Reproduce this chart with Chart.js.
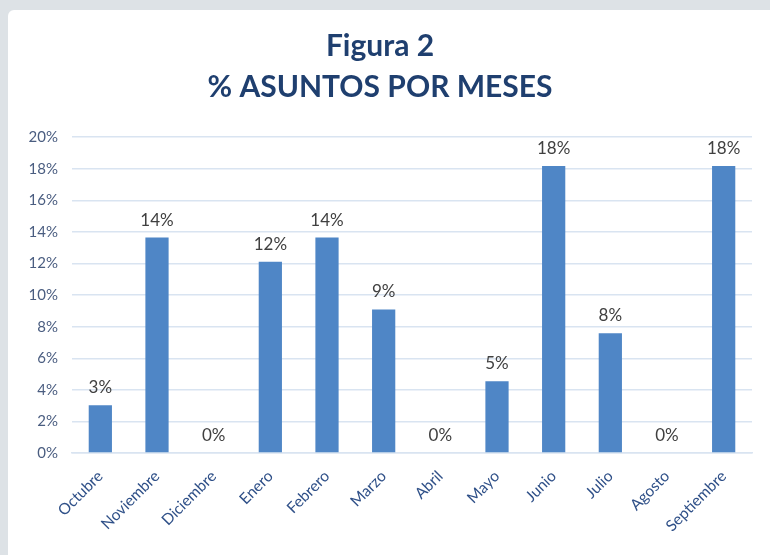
<!DOCTYPE html>
<html>
<head>
<meta charset="utf-8">
<script src="https://cdn.jsdelivr.net/npm/chart.js@4"></script>
<style>
  html, body { margin: 0; padding: 0; background: #dde2e6; }
  #panel {
    position: absolute; left: 8px; top: 10px; width: 770px; height: 560px;
    background: #ffffff; border-radius: 6px;
  }
  #wrap { position: absolute; left: 0; top: 0; width: 762px; height: 545px; }
</style>
</head>
<body>
<div id="panel"><div id="wrap"><canvas id="grafico"></canvas></div></div>
<script>
const meses = ["Octubre", "Noviembre", "Diciembre", "Enero", "Febrero", "Marzo",
  "Abril", "Mayo", "Junio", "Julio", "Agosto", "Septiembre"];
const porcentajes = [3.03, 13.64, 0, 12.12, 13.64, 9.09, 0, 4.55, 18.18, 7.58, 0, 18.18];
const titulo = ["Figura 2", "% ASUNTOS POR MESES"];

// etiquetas encima de cada barra
const etiquetas = {
  id: "etiquetas",
  afterDatasetsDraw(chart) {
    const ctx = chart.ctx;
    const meta = chart.getDatasetMeta(0);
    ctx.save();
    ctx.font = "17px Lato";
    ctx.fillStyle = "#404040";
    ctx.textAlign = "center";
    ctx.textBaseline = "bottom";
    meta.data.forEach((bar, i) => {
      ctx.fillText(Math.round(porcentajes[i]) + "%", bar.x, bar.y - 9);
    });
    ctx.restore();
  }
};

new Chart(document.getElementById("grafico"), {
  type: "bar",
  data: {
    labels: meses,
    datasets: [{
      data: porcentajes,
      backgroundColor: "#4f86c6",
      categoryPercentage: 1,
      barPercentage: 0.41
    }]
  },
  options: {
    responsive: true,
    maintainAspectRatio: false,
    animation: false,
    layout: { padding: { top: 10, right: 18, left: 0, bottom: 0 } },
    plugins: {
      legend: { display: false },
      tooltip: { enabled: false },
      title: {
        display: true,
        text: titulo,
        color: "#1f3f6f",
        font: { family: "Lato", size: 30, weight: "bold", lineHeight: 1.37 },
        padding: { top: 6, bottom: 29 }
      }
    },
    scales: {
      y: {
        min: 0, max: 20,
        afterFit(axis) { axis.width = 64; },
        border: { display: false },
        grid: { color: "#d9e4f1", drawTicks: false, lineWidth: 1.5 },
        ticks: {
          stepSize: 2, padding: 14, color: "#4a5d80",
          font: { family: "Lato", size: 15 },
          callback: v => v + "%"
        }
      },
      x: {
        afterFit(axis) { axis.height = 102; },
        border: { color: "#d9e4f1", width: 1.5 },
        grid: { display: false },
        ticks: {
          minRotation: 45, maxRotation: 45, padding: 6, color: "#2f5088",
          font: { family: "Lato", size: 15.5 }
        }
      }
    }
  },
  plugins: [etiquetas]
});
</script>
</body>
</html>
